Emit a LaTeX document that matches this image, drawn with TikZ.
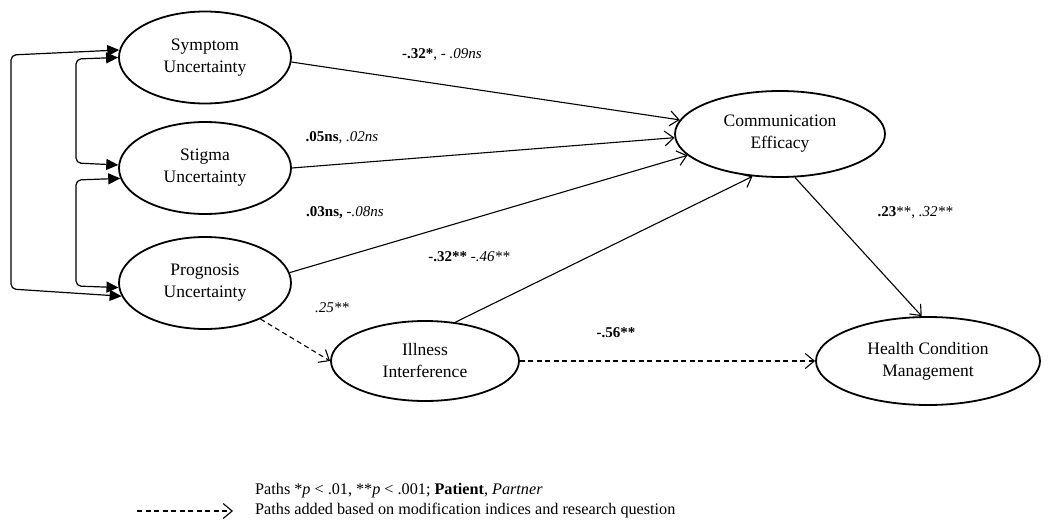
\documentclass[tikz,border=0pt]{standalone}
\usepackage{fontspec}
\setmainfont{Liberation Serif}
\usetikzlibrary{shapes.geometric,arrows.meta}
\tikzset{
  var/.style={ellipse, draw, line width=1.8pt, inner sep=0pt, align=center,
    font=\fontsize{17.5}{22}\selectfont},
  barb/.tip={Straight Barb[length=9pt,width=15pt,line width=1.1pt]},
  path/.style={line width=1.1pt, -barb},
  added/.style={path, dash pattern=on 5pt off 3.5pt},
  corr/.style={line width=1.2pt, rounded corners=5pt,
    {Triangle[length=12pt,width=11pt]}-{Triangle[length=12pt,width=11pt]}},
  lbl/.style={font=\fontsize{15}{18}\selectfont, inner sep=0pt},
  leg/.style={font=\fontsize{16.2}{20}\selectfont, inner sep=0pt},
}
\begin{document}
\begin{tikzpicture}[x=1pt,y=-1pt]
\useasboundingbox (0,0) rectangle (1055,522);
\node[var, minimum width=172pt, minimum height=92pt] (sym) at (205,57.5) {Symptom\\Uncertainty};
\node[var, minimum width=172pt, minimum height=92pt] (stig) at (205,168) {Stigma\\Uncertainty};
\node[var, minimum width=172pt, minimum height=92pt] (prog) at (205,283) {Prognosis\\Uncertainty};
\node[var, minimum width=210pt, minimum height=86pt] (comm) at (780,134) {Communication\\Efficacy};
\node[var, minimum width=188pt, minimum height=80pt] (ill) at (425,361) {Illness\\Interference};
\node[var, minimum width=224pt, minimum height=88pt] (hcm) at (928,361) {Health Condition\\Management};

% correlations
\draw[corr] (sym.west) -- (76,59) -- (76,163) -- (stig.178);
\draw[corr] (stig.187) -- (76,180) -- (76,286) -- (prog.183);
\draw[corr] (sym.175) -- (11,55) -- (11,289) -- (prog.189);

% paths
\draw[path] (sym.-3) -- (comm.172);
\draw[path] (stig.0) -- (comm.182);
\draw[path] (prog.7) -- (comm.193);
\draw[path] (ill.52) -- (comm.237);
\draw[path] (comm.289) -- (hcm.98);
\draw[added] (prog.-33) -- (ill.180);
\draw[added] (ill.east) -- (hcm.west);

% labels
\node[lbl] (l1) at (442,55) {\textbf{-.32*}, - \textit{.09ns}};
\node[lbl] (l2) at (342,138) {\textbf{.05ns}, \textit{.02ns}};
\node[lbl] (l3) at (345,213) {\textbf{.03ns,} -\textit{.08ns}};
\node[lbl] (l4) at (469,257) {\textbf{-.32**} \textit{-.46**}};
\node[lbl] (l5) at (332,308) {\textit{.25**}};
\node[lbl] (l6) at (616,333) {\textbf{-.56**}};
\node[lbl] (l7) at (915,213) {\textbf{.23}**, \textit{.32**}};

% legend
\coordinate (la) at (137,511);
\coordinate (lb) at (233,511);
\draw[added] (la) -- (lb);
\node[leg, anchor=west] (g1) at (255,491) {Paths *\textit{p} < .01, **\textit{p} < .001; \textbf{Patient}, \textit{Partner}};
\node[leg, anchor=west] (g2) at (255,511) {Paths added based on modification indices and research question};
\end{tikzpicture}
\end{document}
